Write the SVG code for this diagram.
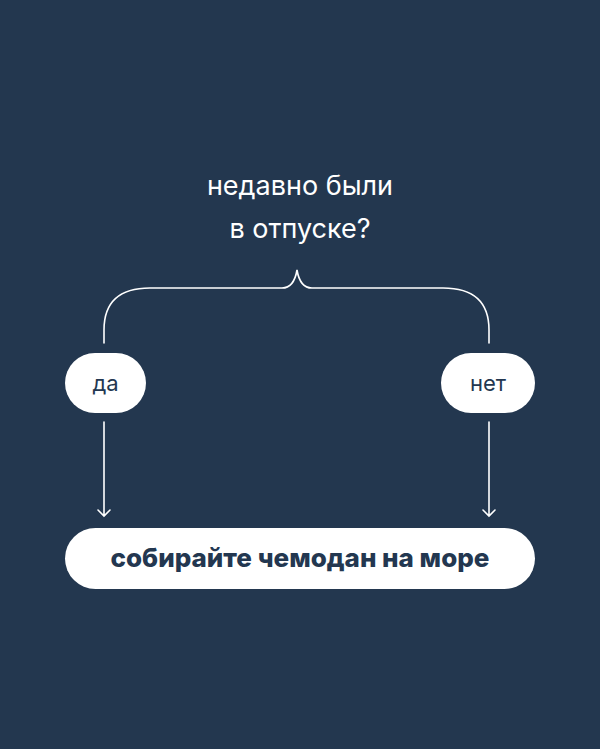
<svg xmlns="http://www.w3.org/2000/svg" width="600" height="749" viewBox="0 0 600 749">
<style>
.pill{fill:#fff}
.t{font-family:Inter,"Noto Sans",sans-serif;fill:#233750;text-anchor:middle}
.ln{fill:none;stroke:#fff;stroke-width:1.6;stroke-linecap:round}
</style>
<rect width="600" height="749" fill="#23374f"/>
<g id="question"><text x="300" y="195" font-family="Inter,'Noto Sans',sans-serif" font-size="27" fill="#fff" text-anchor="middle">недавно были</text>
<text x="300" y="238" font-family="Inter,'Noto Sans',sans-serif" font-size="27" fill="#fff" text-anchor="middle">в отпуске?</text></g>
<g id="connectors" class="ln">
<path d="M104,343 V330 Q104,288 150,288 H282 Q294,288 297,270 Q300,288 312,288 H443 Q489,288 489,330 V343"/>
<path d="M104,422 V516 M98,510 L104,516 L110,510"/>
<path d="M489,422 V516 M483,510 L489,516 L495,510"/>
</g>
<g id="yes"><rect class="pill" x="65" y="353" width="81" height="60" rx="30"/><text class="t" x="105.5" y="391" font-size="22">да</text></g>
<g id="no"><rect class="pill" x="441" y="353" width="94" height="60" rx="30"/><text class="t" x="488" y="391" font-size="22">нет</text></g>
<g id="result"><rect class="pill" x="65" y="528" width="470" height="61" rx="30.5"/><text class="t" x="300" y="567" font-size="26" font-weight="800">собирайте чемодан на море</text></g>
</svg>
